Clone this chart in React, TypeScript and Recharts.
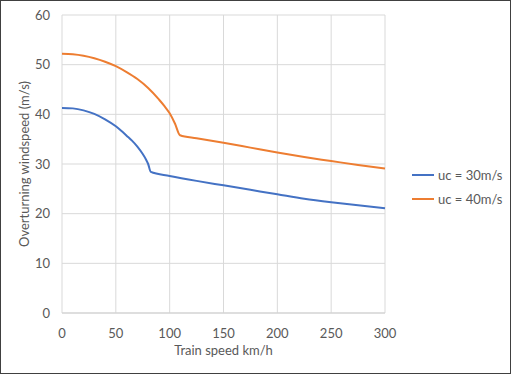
import { LineChart, Line, XAxis, YAxis, CartesianGrid, Legend } from "recharts";

// Train speed (km/h) and overturning windspeed (m/s)
const speed30 = [0, 10, 20, 30, 40, 50, 55, 60, 65, 70, 75, 78, 80, 82.5, 100, 125, 150, 175, 200, 225, 250, 275, 300];
const wind30 = [41.3, 41.2, 40.8, 40.1, 39.0, 37.6, 36.7, 35.7, 34.7, 33.5, 32.0, 30.9, 30.0, 28.4, 27.6, 26.6, 25.7, 24.8, 23.9, 23.0, 22.3, 21.7, 21.1];

const speed40 = [0, 10, 20, 30, 40, 50, 60, 70, 80, 90, 95, 100, 105, 109.6, 125, 150, 175, 200, 225, 250, 275, 300];
const wind40 = [52.2, 52.1, 51.8, 51.3, 50.6, 49.7, 48.5, 47.1, 45.3, 43.0, 41.7, 40.2, 38.1, 35.8, 35.2, 34.3, 33.3, 32.3, 31.4, 30.6, 29.8, 29.1];

const xTicks = [0, 50, 100, 150, 200, 250, 300];
const yTicks = [0, 10, 20, 30, 40, 50, 60];

const series = [
  { name: "uc = 30m/s", color: "#4472C4", data: speed30.map((s, i) => ({ speed: s, value: wind30[i] })) },
  { name: "uc = 40m/s", color: "#ED7D31", data: speed40.map((s, i) => ({ speed: s, value: wind40[i] })) },
];

const FONT = "Lato, 'Open Sans', sans-serif";
const TEXT = "#595959";

function LegendBox({ payload }: any) {
  return (
    <div style={{ fontFamily: FONT, fontSize: 13, color: TEXT, paddingLeft: 27 }}>
      {(payload || []).map((p: any) => (
        <div key={p.value} style={{ display: "flex", alignItems: "center", height: 24 }}>
          <span style={{ display: "inline-block", width: 22, height: 2, background: p.color, marginRight: 4 }} />
          {p.value}
        </div>
      ))}
    </div>
  );
}

export default function App() {
  return (
    <div
      style={{
        position: "absolute",
        left: 0,
        top: 0,
        width: 511,
        height: 374,
        boxSizing: "border-box",
        border: "1px solid #404040",
        background: "#fff",
      }}
    >
      <div style={{ position: "absolute", left: -1, top: -1 }}>
        <LineChart width={511} height={374} margin={{ top: 15, right: 6, bottom: 19, left: 10 }}>
          <CartesianGrid stroke="#d9d9d9" />
          <XAxis
            dataKey="speed"
            type="number"
            domain={[0, 300]}
            ticks={xTicks}
            allowDuplicatedCategory={false}
            height={42}
            axisLine={{ stroke: "#d0d0d0" }}
            tickLine={false}
            tick={{ fill: TEXT, fontSize: 13, fontFamily: FONT }}
            tickMargin={10}
            label={{ value: "Train speed km/h", position: "insideBottom", offset: 0, fill: TEXT, fontSize: 13, fontFamily: FONT }}
          />
          <YAxis
            type="number"
            domain={[0, 60]}
            ticks={yTicks}
            width={52}
            axisLine={false}
            tickLine={false}
            tick={{ fill: TEXT, fontSize: 13, fontFamily: FONT }}
            tickMargin={6}
            label={{
              value: "Overturning windspeed (m/s)",
              angle: -90,
              position: "insideLeft",
              offset: 14,
              fill: TEXT,
              fontSize: 13,
              fontFamily: FONT,
              style: { textAnchor: "middle" },
            }}
          />
          <Legend
            layout="vertical"
            verticalAlign="top"
            align="right"
            content={<LegendBox />}
            wrapperStyle={{ top: 163, right: 6, width: 120 }}
          />
          {series.map((s) => (
            <Line
              key={s.name}
              data={s.data}
              dataKey="value"
              name={s.name}
              type="monotone"
              stroke={s.color}
              strokeWidth={2}
              dot={false}
              isAnimationActive={false}
            />
          ))}
        </LineChart>
      </div>
    </div>
  );
}
